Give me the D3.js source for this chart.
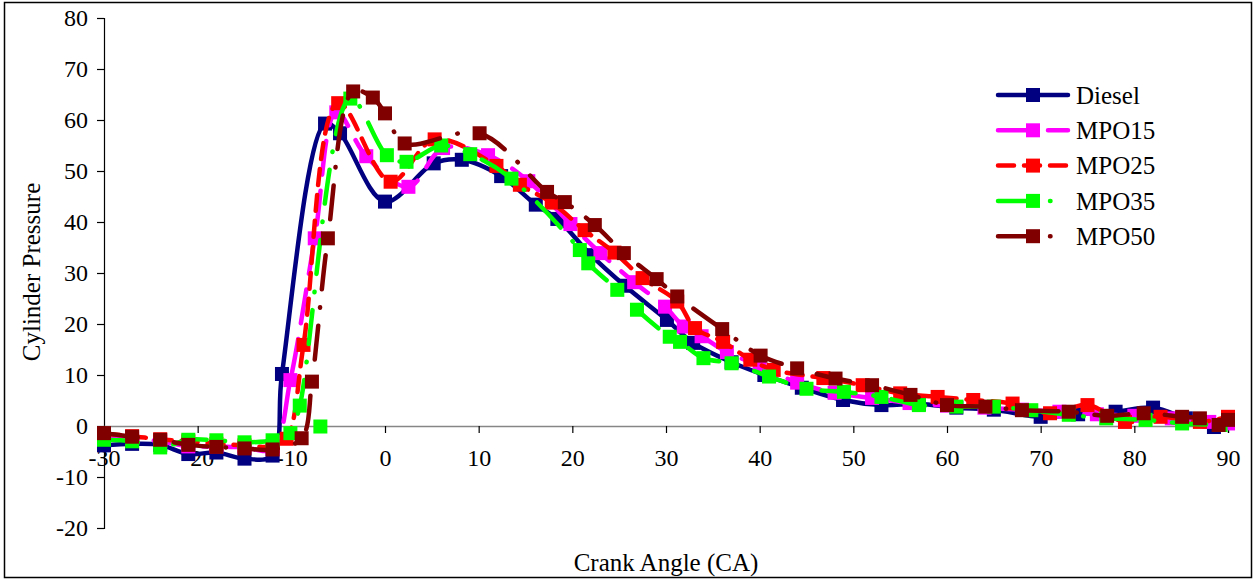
<!DOCTYPE html>
<html>
<head>
<meta charset="utf-8">
<script src="https://cdn.jsdelivr.net/npm/d3@7"></script>
<style>
  html, body { margin: 0; padding: 0; background: #fff; }
  svg text { font-family: "Liberation Serif", "Times New Roman", serif; fill: #000; }
</style>
</head>
<body>
<svg id="chart" width="1255" height="580"></svg>
<script>
// Crank angle (deg) and cylinder pressure for each fuel blend
const dieselAngle = [-30,-27,-24,-21,-18,-15,-12,-11,-6.4,-4.8,0,5.2,8.2,12.4,16.1,18.4,22,25.6,30.1,32.9,37,40.5,44.5,48.9,53,57,61,65,70,74,78,82,85.5,88.5,90];
const dieselPressure = [-3.8,-3.5,-3.7,-5.5,-5.2,-6.4,-5.8,10.2,59.3,57.4,44,51.5,52.2,49,43.4,40.6,33.5,27.5,20.8,16.3,12.5,10,7.5,5.1,4.1,4.3,3.6,3.2,1.8,2.3,2.8,3.6,1.5,-0.2,1];

const mpo15Angle = [-30,-27,-24,-21,-18,-15,-12,-10.1,-7.5,-5.2,-2,2.5,6.2,11,15.3,19.8,23,26.6,29.9,31.9,33.8,36.5,40,44,48,52,56,60,64,68,72,76,80,84,88,90];
const mpo15Pressure = [-2,-2.5,-3,-4,-4,-4.2,-4.5,9,36.8,61.5,52.9,46.9,54.5,53.1,48,39.6,33.9,28.2,23.4,19.5,17.6,14.5,11.8,8.5,6.5,5.5,4.5,4,3.6,3.2,2.8,2.3,2,1.5,0.8,0.5];

const mpo25Angle = [-30,-27,-24,-21,-18,-15,-12,-10.5,-8.7,-5,0.6,5.3,11.9,14.4,17.8,21.3,24.5,27.5,31.2,33.1,36.1,39,41.5,46.8,51,55,59,62.8,67,71,75,79,82.8,87,90];
const mpo25Pressure = [-1.5,-2,-2.6,-3,-3.5,-3.8,-4,-2.5,15.9,63.3,47.9,56.2,51,47.3,43.8,38.4,34,29,24.4,19.2,16.5,13,11,9.4,8,6.4,5.7,5.1,4.4,2.5,4.1,0.8,1.8,0.8,1.8];

const mpo35Angle = [-30,-27,-24,-21,-18,-15,-12,-10.1,-9.1,-3.7,0.2,2.3,6,9.1,13.5,20.8,21.7,24.8,26.9,30.4,31.5,34,37,41,45,49,53,57,61,65,69,73,77,81.2,85.1,89.2];
const mpo35Pressure = [-2.7,-3,-4.2,-2.7,-2.8,-3.2,-2.8,-1.4,4,64.2,53.1,51.8,55,53.3,48.5,34.5,31.9,26.7,22.8,17.5,16.5,13.3,12.3,9.7,7.3,6.7,5.7,4.1,3.8,3.8,3.1,2.2,1.5,1.2,0.5,0.2];
// single MPO35 reading logged without a connecting trace
const mpo35LoneAngle = [-6.9];
const mpo35LonePressure = [-0.1];

const mpo50Angle = [-30,-27,-24,-21,-18,-15,-12,-8.9,-7.8,-6.1,-3.4,-1.3,0,2.1,10.1,17.3,19.2,22.4,25.5,29,31.2,36,40.1,44,48.1,52,56.1,60,64.1,68,73,77.1,81,85.1,87,89,90];
const mpo50Pressure = [-1.4,-2.1,-2.7,-3.7,-4.1,-4.4,-4.6,-2.4,8.7,36.8,65.6,64.4,61.3,55.4,57.4,45.9,43.9,39.4,33.9,28.8,25.4,19,13.8,11.3,9.3,8,6.1,4.1,3.8,3.1,2.8,2,2.5,1.8,1.5,0.2,1.2];

const seriesNames = ["Diesel","MPO15","MPO25","MPO35","MPO50"];
const seriesColors = ["#000080","#ff00ff","#ff0000","#00ff00","#800000"];
const seriesDashes = [null, "34,16", "16,10", "34,18,0.5,18", "34,18,0.5,18"];

const xTicks = [-30,-20,-10,0,10,20,30,40,50,60,70,80,90];
const yTicks = [-20,-10,0,10,20,30,40,50,60,70,80];

const series = [
  {angle: dieselAngle, p: dieselPressure},
  {angle: mpo15Angle, p: mpo15Pressure},
  {angle: mpo25Angle, p: mpo25Pressure},
  {angle: mpo35Angle, p: mpo35Pressure},
  {angle: mpo50Angle, p: mpo50Pressure}
].map((s, i) => ({
  name: seriesNames[i], color: seriesColors[i], dash: seriesDashes[i],
  points: s.angle.map((a, j) => ({a, v: s.p[j]}))
}));

const svg = d3.select("#chart");
const W = 1255, H = 580;
const plot = {left: 104, right: 1228, top: 18, bottom: 528};
const plainNumber = d => String(d);

// outer frame
svg.append("rect").attr("x", 4.5).attr("y", 2.5).attr("width", W - 8).attr("height", H - 5)
  .attr("fill", "none").attr("stroke", "#000").attr("stroke-width", 1.5);

const x = d3.scaleLinear().domain([-30, 90]).range([plot.left, plot.right]);
const y = d3.scaleLinear().domain([-20, 80]).range([plot.bottom, plot.top]);

// y axis
const yAxis = svg.append("g").attr("transform", `translate(${plot.left},0)`)
  .call(d3.axisLeft(y).tickValues(yTicks).tickSize(7).tickPadding(9).tickFormat(plainNumber));
yAxis.select(".domain").attr("stroke", "#000").attr("stroke-width", 1.2);
yAxis.selectAll(".tick line").attr("stroke", "#000").attr("stroke-width", 1.2);
yAxis.selectAll("text").attr("font-size", 24).attr("font-family", "Liberation Serif").attr("fill", "#000");

// x axis along the zero line, labels set well below it
const xAxis = svg.append("g").attr("transform", `translate(0,${y(0)})`)
  .call(d3.axisBottom(x).tickValues(xTicks).tickSize(7).tickPadding(16).tickFormat(plainNumber));
xAxis.select(".domain").attr("stroke", "#868686").attr("stroke-width", 1.5);
xAxis.selectAll(".tick line").attr("stroke", "#000").attr("stroke-width", 1.2);
xAxis.selectAll("text").attr("font-size", 24).attr("font-family", "Liberation Serif").attr("fill", "#000");

// axis titles
svg.append("text").attr("x", (plot.left + plot.right) / 2).attr("y", 571)
  .attr("text-anchor", "middle").attr("font-size", 25).text("Crank Angle (CA)");
svg.append("text").attr("transform", `translate(40,${(plot.top + plot.bottom) / 2 - 1}) rotate(-90)`)
  .attr("text-anchor", "middle").attr("font-size", 25).text("Cylinder Pressure");

const line = d3.line().x(d => x(d.a)).y(d => y(d.v)).curve(d3.curveCatmullRom.alpha(0.5));
const M = 14;

series.forEach((s, i) => {
  const g = svg.append("g");
  g.append("path").datum(s.points).attr("d", line).attr("fill", "none")
    .attr("stroke", s.color).attr("stroke-width", 4.5)
    .attr("stroke-linecap", "round").attr("stroke-linejoin", "round")
    .attr("stroke-dasharray", s.dash);
  g.selectAll("rect").data(s.points).join("rect")
    .attr("x", d => x(d.a) - M / 2).attr("y", d => y(d.v) - M / 2)
    .attr("width", M).attr("height", M).attr("fill", s.color);
  if (s.name === "MPO35") {
    const lone = mpo35LoneAngle.map((a, j) => ({a, v: mpo35LonePressure[j]}));
    g.selectAll("rect.lone").data(lone).join("rect").attr("class", "lone")
      .attr("x", d => x(d.a) - M / 2).attr("y", d => y(d.v) - M / 2)
      .attr("width", M).attr("height", M).attr("fill", s.color);
  }
});

// legend
const legend = svg.append("g").attr("transform", "translate(998,95)");
series.forEach((s, i) => {
  const row = legend.append("g").attr("transform", `translate(0,${i * 35.3})`);
  row.append("line").attr("x1", 0).attr("x2", 70).attr("y1", 0).attr("y2", 0)
    .attr("stroke", s.color).attr("stroke-width", 4.5).attr("stroke-linecap", "round")
    .attr("stroke-dasharray", s.dash);
  row.append("rect").attr("x", 35 - M / 2).attr("y", -M / 2).attr("width", M).attr("height", M)
    .attr("fill", s.color);
  row.append("text").attr("x", 78).attr("y", 0).attr("dy", "0.35em")
    .attr("font-size", 25).text(s.name);
});
</script>
</body>
</html>
